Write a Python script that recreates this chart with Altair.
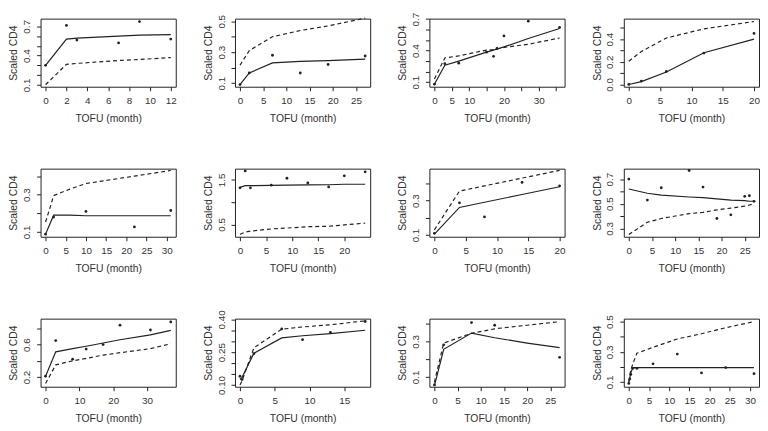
import pandas as pd
import altair as alt

# ---- panel data: observation times, observed scaled CD4, solid fit, dashed curve ----
p1_t = [0, 2, 3, 7, 9, 12]
p1_obs = [0.30, 0.71, 0.56, 0.53, 0.75, 0.57]
p1_fit = [0.30, 0.57, 0.58, 0.60, 0.61, 0.615]
p1_dash = [0.10, 0.31, 0.32, 0.35, 0.36, 0.38]

p2_t = [0, 2, 7, 13, 19, 27]
p2_obs = [0.09, 0.165, 0.28, 0.165, 0.22, 0.275]
p2_fit = [0.09, 0.165, 0.23, 0.24, 0.245, 0.255]
p2_dash = [0.215, 0.31, 0.40, 0.44, 0.47, 0.52]

p3_t = [0, 3, 7, 15, 17, 18, 20, 27, 36]
p3_obs = [0.08, 0.275, 0.28, 0.385, 0.345, 0.42, 0.54, 0.68, 0.62]
p3_fit = [0.08, 0.26, 0.30, 0.385, 0.405, 0.415, 0.435, 0.515, 0.61]
p3_dash = [0.13, 0.33, 0.35, 0.405, 0.41, 0.415, 0.43, 0.46, 0.52]

p4_t = [0, 2, 6, 12, 20]
p4_obs = [0.0, 0.03, 0.115, 0.277, 0.45]
p4_fit = [0.0, 0.025, 0.11, 0.28, 0.40]
p4_dash = [0.205, 0.29, 0.41, 0.49, 0.555]

p5_t = [0, 2, 6, 10, 22, 31]
p5_obs = [0.088, 0.18, None, 0.21, 0.127, 0.215]
p5_fit = [0.088, 0.19, 0.19, 0.187, 0.187, 0.187]
p5_dash = [0.153, 0.295, 0.33, 0.36, 0.40, 0.43]

p6_t = [0, 1, 2, 6, 9, 13, 17, 20, 24]
p6_obs = [1.32, 1.70, 1.32, 1.38, 1.535, 1.43, 1.34, 1.59, 1.68]
p6_fit = [1.33, 1.37, 1.37, 1.375, 1.38, 1.385, 1.39, 1.40, 1.40]
p6_dash = [0.28, 0.33, 0.35, 0.40, 0.42, 0.45, 0.46, 0.49, 0.53]

p7_t = [0, 4, 8, 14, 20]
p7_obs = [0.11, 0.287, 0.205, 0.405, 0.385]
p7_fit = [0.105, 0.26, 0.29, 0.335, 0.38]
p7_dash = [0.13, 0.355, 0.385, 0.43, 0.475]

p8_t = [0, 4, 7, 13, 16, 19, 22, 25, 26, 27]
p8_obs = [0.70, 0.53, 0.63, 0.77, 0.635, 0.38, 0.41, 0.56, 0.565, 0.52]
p8_fit = [0.62, 0.585, 0.57, 0.555, 0.55, 0.54, 0.53, 0.525, 0.52, 0.52]
p8_dash = [0.25, 0.35, 0.38, 0.42, 0.43, 0.45, 0.465, 0.48, 0.49, 0.50]

p9_t = [0, 3, 8, 12, 17, 22, 31, 37]
p9_obs = [0.21, 0.65, 0.42, 0.545, 0.60, 0.84, 0.78, 0.88]
p9_fit = [0.21, 0.51, 0.55, 0.58, 0.62, 0.66, 0.72, 0.775]
p9_dash = [0.12, 0.35, 0.40, 0.43, 0.47, 0.50, 0.55, 0.61]

p10_t = [0, 0.3, 2, 6, 9, 13, 18]
p10_obs = [0.14, 0.125, 0.243, 0.356, 0.307, 0.34, 0.39]
p10_fit = [0.125, 0.135, 0.245, 0.315, 0.325, 0.335, 0.35]
p10_dash = [0.10, 0.12, 0.27, 0.355, 0.365, 0.375, 0.393]

p11_t = [0, 2, 8, 13, 20, 27]
p11_obs = [0.055, 0.28, 0.405, 0.39, None, 0.21]
p11_fit = [0.05, 0.255, 0.346, 0.32, 0.29, 0.264]
p11_dash = [0.07, 0.29, 0.345, 0.37, 0.39, 0.41]

p12_t = [0, 0.25, 0.5, 1, 2, 6, 12, 18, 24, 31]
p12_obs = [0.09, 0.12, 0.15, 0.19, 0.19, 0.22, 0.285, 0.16, 0.195, 0.155]
p12_fit = [0.10, 0.13, 0.16, 0.195, 0.195, 0.195, 0.195, 0.195, 0.195, 0.195]
p12_dash = [0.10, 0.14, 0.18, 0.22, 0.29, 0.33, 0.385, 0.42, 0.46, 0.50]

# ---- axis settings per panel: y range, y ticks, labelled y ticks, y format, x ticks, labelled x ticks ----
p1_axes = ([0.08, 0.78], [0.1, 0.2, 0.3, 0.4, 0.5, 0.6, 0.7], [0.1, 0.4, 0.7], ".1f", [0, 2, 4, 6, 8, 10, 12], [0, 2, 4, 6, 8, 10, 12])
p2_axes = ([0.076, 0.517], [0.1, 0.2, 0.3, 0.4, 0.5], [0.1, 0.3, 0.5], ".1f", [0, 5, 10, 15, 20, 25], [0, 5, 10, 15, 20, 25])
p3_axes = ([0.056, 0.704], [0.1, 0.2, 0.3, 0.4, 0.5, 0.6, 0.7], [0.1, 0.4, 0.7], ".1f", [0, 5, 10, 15, 20, 25, 30, 35], [0, 5, 10, 20, 30])
p4_axes = ([-0.02, 0.58], [0.0, 0.1, 0.2, 0.3, 0.4, 0.5], [0.0, 0.2, 0.4], ".1f", [0, 5, 10, 15, 20], [0, 5, 10, 15, 20])
p5_axes = ([0.074, 0.44], [0.1, 0.2, 0.3, 0.4], [0.1, 0.3], ".1f", [0, 5, 10, 15, 20, 25, 30], [0, 5, 10, 15, 20, 25, 30])
p6_axes = ([0.225, 1.75], [0.5, 1.0, 1.5], [0.5, 1.5], ".1f", [0, 5, 10, 15, 20], [0, 5, 10, 15, 20])
p7_axes = ([0.09, 0.485], [0.1, 0.2, 0.3, 0.4], [0.1, 0.3], ".1f", [0, 5, 10, 15, 20], [0, 5, 10, 15, 20])
p8_axes = ([0.232, 0.785], [0.3, 0.4, 0.5, 0.6, 0.7], [0.3, 0.5, 0.7], ".1f", [0, 5, 10, 15, 20, 25], [0, 5, 10, 15, 20, 25])
p9_axes = ([0.08, 0.92], [0.2, 0.4, 0.6, 0.8], [0.2, 0.6], ".1f", [0, 10, 20, 30], [0, 10, 20, 30])
p10_axes = ([0.092, 0.403], [0.10, 0.15, 0.20, 0.25, 0.30, 0.35, 0.40], [0.10, 0.25, 0.40], ".2f", [0, 5, 10, 15], [0, 5, 10, 15])
p11_axes = ([0.045, 0.427], [0.1, 0.2, 0.3, 0.4], [0.1, 0.3], ".1f", [0, 5, 10, 15, 20, 25], [0, 5, 10, 15, 20, 25])
p12_axes = ([0.068, 0.52], [0.1, 0.2, 0.3, 0.4, 0.5], [0.1, 0.3, 0.5], ".1f", [0, 5, 10, 15, 20, 25, 30], [0, 5, 10, 15, 20, 25, 30])

panels = [
    (p1_t, p1_obs, p1_fit, p1_dash, p1_axes),
    (p2_t, p2_obs, p2_fit, p2_dash, p2_axes),
    (p3_t, p3_obs, p3_fit, p3_dash, p3_axes),
    (p4_t, p4_obs, p4_fit, p4_dash, p4_axes),
    (p5_t, p5_obs, p5_fit, p5_dash, p5_axes),
    (p6_t, p6_obs, p6_fit, p6_dash, p6_axes),
    (p7_t, p7_obs, p7_fit, p7_dash, p7_axes),
    (p8_t, p8_obs, p8_fit, p8_dash, p8_axes),
    (p9_t, p9_obs, p9_fit, p9_dash, p9_axes),
    (p10_t, p10_obs, p10_fit, p10_dash, p10_axes),
    (p11_t, p11_obs, p11_fit, p11_dash, p11_axes),
    (p12_t, p12_obs, p12_fit, p12_dash, p12_axes),
]

INK = "#222222"


def label_expr(vals):
    # only show the labels R would keep, other ticks stay unlabelled
    cond = " || ".join(f"abs(datum.value - ({v})) < 1e-6" for v in vals)
    return f"({cond}) ? datum.label : ''"


def make_panel(t, obs, fit, dash, axes):
    ydom, yticks, ylabs, yfmt, xticks, xlabs = axes
    span = max(t) - min(t)
    xdom = [min(t) - 0.04 * span, max(t) + 0.04 * span]
    df = pd.DataFrame({"t": t, "obs": obs, "fit": fit, "dash": dash})

    x = alt.X("t:Q", title="TOFU (month)",
              scale=alt.Scale(domain=xdom, nice=False, zero=False),
              axis=alt.Axis(values=xticks, format="d", labelExpr=label_expr(xlabs)))

    def y(field):
        return alt.Y(f"{field}:Q", title="Scaled CD4",
                     scale=alt.Scale(domain=ydom, nice=False, zero=False),
                     axis=alt.Axis(values=yticks, format=yfmt, labelExpr=label_expr(ylabs)))

    base = alt.Chart(df)
    solid = base.mark_line(color=INK, strokeWidth=1.2).encode(x=x, y=y("fit"))
    dashed = base.mark_line(color=INK, strokeWidth=1.2, strokeDash=[4, 3]).encode(x=x, y=y("dash"))
    pts = base.mark_circle(color=INK, size=8, opacity=1).encode(x=x, y=y("obs"))
    return (dashed + solid + pts).properties(width=137, height=69)


chart = alt.concat(
    *[make_panel(*p) for p in panels],
    columns=4,
    spacing={"row": 83, "column": 60},
    bounds="flush",
).properties(
    padding={"left": 0, "top": 0, "right": 0, "bottom": 0}
).configure_view(
    stroke=INK, strokeWidth=1
).configure_axis(
    grid=False,
    domain=False,
    tickColor=INK,
    tickSize=4,
    labelFont="Liberation Sans",
    labelFontSize=10,
    labelColor="#333333",
    labelOverlap=False,
    labelFlush=False,
    titleFont="Liberation Sans",
    titleFontSize=10.5,
    titleFontWeight="normal",
    titleColor="#333333",
).configure_axisX(
    labelPadding=5,
    titlePadding=8,
).configure_axisY(
    labelAngle=270,
    labelAlign="center",
    labelBaseline="bottom",
    labelPadding=5,
    titlePadding=3,
)

chart.save("out.html", embed_options={"renderer": "svg", "actions": False})
